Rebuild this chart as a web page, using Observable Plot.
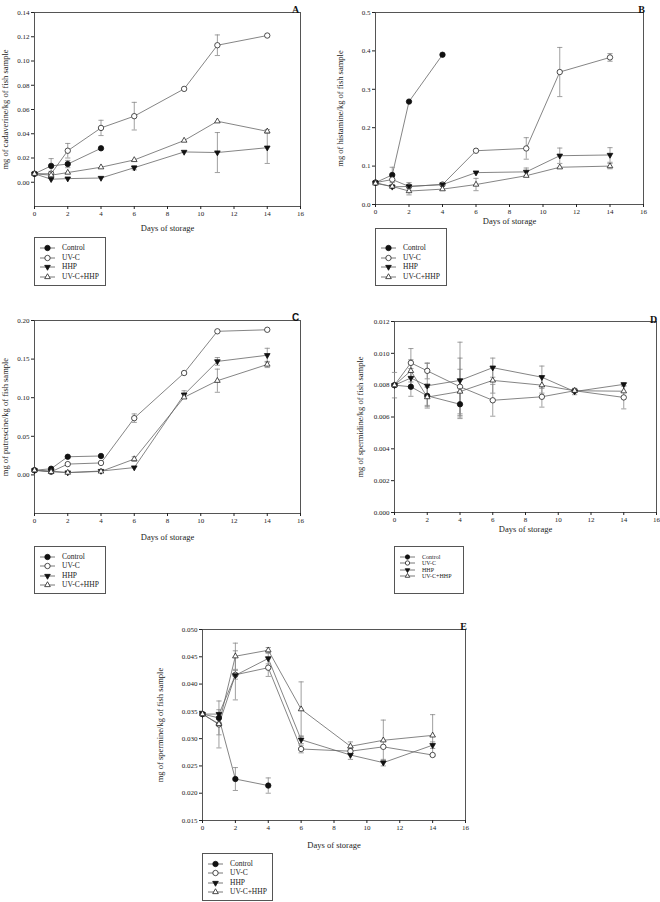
<!DOCTYPE html>
<html><head><meta charset="utf-8">
<script src="https://cdn.jsdelivr.net/npm/d3@7"></script>
<script src="https://cdn.jsdelivr.net/npm/@observablehq/plot@0.6"></script>
<style>
body{margin:0;background:#fff;}
#root{position:relative;width:660px;height:902px;overflow:hidden;font-family:"Liberation Serif",serif;color:#222;}
.panel{position:absolute;}
.panel svg{overflow:visible;}
.legend{position:absolute;border:1px solid #555;box-sizing:border-box;background:#fff;}
.legend .row{position:absolute;left:0;height:0;}
.legend .row svg{position:absolute;left:0;top:-4px;overflow:visible;}
.legend .row span{position:absolute;left:27px;top:0;transform:translateY(-52%);white-space:nowrap;color:#222;line-height:1;}
</style></head><body><div id="root"></div>
<script>
// ---------- shared ----------
const days = [0, 1, 2, 4, 6, 9, 11, 14];
const controlDays = [0, 1, 2, 4];
const seriesNames = ["Control", "UV-C", "HHP", "UV-C+HHP"];
const xTicks = [0, 2, 4, 6, 8, 10, 12, 14, 16];
const xLabel = "Days of storage";

// ---------- A: cadaverine ----------
const cadControl = [0.007, 0.0135, 0.015, 0.028];
const cadControlSd = [0, 0.006, 0.003, 0];
const cadUVC = [0.007, 0.007, 0.026, 0.0448, 0.0545, 0.077, 0.113, 0.121];
const cadUVCSd = [0, 0.002, 0.006, 0.0063, 0.0114, 0, 0.0085, 0];
const cadHHP = [0.007, 0.0025, 0.003, 0.0035, 0.012, 0.025, 0.0245, 0.0285];
const cadHHPSd = [0, 0, 0, 0, 0.0018, 0, 0.0165, 0.013];
const cadCombo = [0.007, 0.0058, 0.008, 0.0124, 0.0184, 0.0344, 0.0503, 0.042];
const cadComboSd = [0, 0, 0, 0, 0, 0, 0, 0.0015];
const cadTicks = [0, 0.02, 0.04, 0.06, 0.08, 0.10, 0.12, 0.14];

// ---------- B: histamine ----------
const hisControl = [0.057, 0.077, 0.268, 0.39];
const hisControlSd = [0, 0.02, 0, 0];
const hisUVC = [0.057, 0.065, 0.047, 0.052, 0.14, 0.146, 0.345, 0.383];
const hisUVCSd = [0, 0, 0, 0, 0, 0.028, 0.064, 0.01];
const hisHHP = [0.057, 0.046, 0.047, 0.052, 0.083, 0.085, 0.127, 0.129];
const hisHHPSd = [0, 0, 0.01, 0, 0, 0.01, 0.02, 0.019];
const hisCombo = [0.055, 0.047, 0.035, 0.04, 0.052, 0.075, 0.097, 0.1];
const hisComboSd = [0, 0.005, 0.01, 0, 0.016, 0, 0, 0.007];
const hisTicks = [0, 0.1, 0.2, 0.3, 0.4, 0.5];

// ---------- C: putrescine ----------
const putControl = [0.006, 0.008, 0.0235, 0.0245];
const putControlSd = [0, 0, 0, 0];
const putUVC = [0.006, 0.004, 0.014, 0.0155, 0.0735, 0.132, 0.186, 0.188];
const putUVCSd = [0, 0, 0, 0, 0.0055, 0, 0, 0];
const putHHP = [0.006, 0.005, 0.003, 0.005, 0.0095, 0.104, 0.147, 0.155];
const putHHPSd = [0, 0, 0, 0, 0, 0.005, 0.005, 0.009];
const putCombo = [0.006, 0.004, 0.003, 0.0045, 0.0205, 0.1005, 0.122, 0.143];
const putComboSd = [0, 0, 0, 0, 0.003, 0, 0.015, 0.004];
const putTicks = [0, 0.05, 0.10, 0.15, 0.20];

// ---------- D: spermidine ----------
const spdControl = [0.008, 0.0079, 0.00733, 0.0068];
const spdControlSd = [0.0008, 0.0006, 0.0006, 0.0008];
const spdUVC = [0.008, 0.0094, 0.0089, 0.0079, 0.00705, 0.00727, 0.00765, 0.00723];
const spdUVCSd = [0, 0.0009, 0.0005, 0.0018, 0.001, 0.00065, 0.0001, 0.00072];
const spdHHP = [0.008, 0.00845, 0.00796, 0.0083, 0.0091, 0.0085, 0.0076, 0.00805];
const spdHHPSd = [0, 0.0006, 0.0014, 0.0024, 0.0006, 0.0007, 0.0002, 0.0001];
const spdCombo = [0.008, 0.0089, 0.00725, 0.0076, 0.0083, 0.008, 0.00765, 0.00762];
const spdComboSd = [0, 0.0007, 0.0006, 0.0014, 0.0008, 0.0005, 0.0001, 0];
const spdTicks = [0, 0.002, 0.004, 0.006, 0.008, 0.010, 0.012];

// ---------- E: spermine ----------
const spmControl = [0.0345, 0.0338, 0.0226, 0.0214];
const spmControlSd = [0, 0.0008, 0.0021, 0.0014];
const spmUVC = [0.0345, 0.0326, 0.0417, 0.043, 0.0281, 0.0277, 0.0285, 0.027];
const spmUVCSd = [0, 0.0043, 0.0008, 0.0016, 0.0007, 0.0005, 0, 0];
const spmHHP = [0.0345, 0.0345, 0.0416, 0.0447, 0.0298, 0.027, 0.0256, 0.0288];
const spmHHPSd = [0, 0.0008, 0.0045, 0.001, 0.0007, 0.0008, 0.0006, 0.0006];
const spmCombo = [0.0345, 0.0327, 0.0451, 0.0462, 0.0354, 0.0286, 0.0297, 0.0306];
const spmComboSd = [0, 0.002, 0.0024, 0.0005, 0.005, 0.0008, 0.0037, 0.0038];
const spmTicks = [0.015, 0.020, 0.025, 0.030, 0.035, 0.040, 0.045, 0.050];

// ---------- symbols ----------
const triDown = {draw(ctx, size) {
  const y = -Math.sqrt(size / (Math.sqrt(3) * 3));
  ctx.moveTo(0, -y * 2); ctx.lineTo(-Math.sqrt(3) * y, y); ctx.lineTo(Math.sqrt(3) * y, y); ctx.closePath();
}};
const capSym = {draw(ctx, size) {
  const r = Math.sqrt(size / Math.PI);
  ctx.moveTo(-r, 0); ctx.lineTo(r, 0);
}};
const styles = [
  {symbol: "circle", fill: "#111", stroke: "#111", r: 2.7},
  {symbol: "circle", fill: "#fff", stroke: "#222", r: 2.7},
  {symbol: triDown, fill: "#111", stroke: "#111", r: 2.1},
  {symbol: "triangle", fill: "#fff", stroke: "#222", r: 2.1}
];

function toRows(dayArr, vals, sds) {
  return dayArr.map((d, i) => ({day: d, v: vals[i], lo: vals[i] - sds[i], hi: vals[i] + sds[i], sd: sds[i]}));
}

const root = document.getElementById("root");

function panel(cfg) {
  const seriesRows = cfg.series.map(([dArr, v, s]) => toRows(dArr, v, s));
  const marks = [
    Plot.frame({stroke: "#444", strokeWidth: 0.9}),
    Plot.axisX({ticks: xTicks, tickSize: 3, tickPadding: 2, tickFormat: d3.format("d"), label: null}),
    Plot.axisY({ticks: cfg.yTicks, tickSize: 3, tickPadding: 2, tickFormat: d3.format(cfg.yFmt), label: null})
  ];
  seriesRows.forEach(rows => marks.push(Plot.line(rows, {x: "day", y: "v", stroke: "#666", strokeWidth: 0.8})));
  seriesRows.forEach(rows => {
    const err = rows.filter(r => r.sd > 0);
    marks.push(Plot.ruleX(err, {x: "day", y1: "lo", y2: "hi", stroke: "#888", strokeWidth: 0.8}));
    marks.push(Plot.dot(err, {x: "day", y: "hi", symbol: capSym, r: 2.6, stroke: "#888", strokeWidth: 0.8}));
    marks.push(Plot.dot(err, {x: "day", y: "lo", symbol: capSym, r: 2.6, stroke: "#888", strokeWidth: 0.8}));
  });
  seriesRows.forEach((rows, i) => marks.push(Plot.dot(rows, {x: "day", y: "v", symbol: styles[i].symbol, fill: styles[i].fill, stroke: styles[i].stroke, r: styles[i].r * (cfg.symScale || 1), strokeWidth: 0.8})));
  marks.push(Plot.text([xLabel], {frameAnchor: "bottom", textAnchor: "middle", dy: cfg.dyX, fontSize: 8.5, fill: "#222"}));
  marks.push(Plot.text([cfg.ylabel], {frameAnchor: "left", textAnchor: "middle", rotate: -90, dx: cfg.dxY, fontSize: 8.5, fill: "#222"}));
  marks.push(Plot.text([cfg.letter], {frameAnchor: "top-right", textAnchor: "middle", dx: cfg.ldx, dy: cfg.ldy, fontSize: 10, fontWeight: "bold", fill: "#111", fontFamily: cfg.letterFont || "Liberation Serif"}));
  const chart = Plot.plot({
    width: cfg.width, height: cfg.height,
    marginLeft: cfg.ml, marginRight: cfg.mr, marginTop: cfg.mt, marginBottom: cfg.mb,
    x: {domain: [0, 16]},
    y: {domain: cfg.yDomain},
    style: {fontFamily: "Liberation Serif", fontSize: "7px", color: "#222", background: "transparent", overflow: "visible"},
    marks
  });
  const div = document.createElement("div");
  div.className = "panel";
  div.style.left = cfg.left + "px"; div.style.top = cfg.top + "px";
  div.appendChild(chart);
  root.appendChild(div);
}

function legend(cfg) {
  const box = document.createElement("div");
  box.className = "legend";
  Object.assign(box.style, {left: cfg.left + "px", top: cfg.top + "px", width: cfg.w + "px", height: cfg.h + "px"});
  const k = cfg.symScale || 1;
  seriesNames.forEach((name, i) => {
    const row = document.createElement("div");
    row.className = "row";
    row.style.top = (cfg.first + i * cfg.step) + "px";
    const svg = d3.create("svg").attr("width", 24).attr("height", 8);
    svg.append("line").attr("x1", 5).attr("x2", 20).attr("y1", 4).attr("y2", 4).attr("stroke", "#555").attr("stroke-width", 0.8);
    const rr = styles[i].r * k;
    const sym = d3.symbol().type(styles[i].symbol === "circle" ? d3.symbolCircle : styles[i].symbol === "triangle" ? d3.symbolTriangle : triDown).size(Math.PI * rr * rr);
    svg.append("path").attr("d", sym()).attr("transform", "translate(12.5,4)").attr("fill", styles[i].fill).attr("stroke", styles[i].stroke).attr("stroke-width", 0.8);
    row.appendChild(svg.node());
    const t = document.createElement("span");
    t.textContent = name;
    t.style.fontSize = cfg.fs + "px";
    row.appendChild(t);
    box.appendChild(row);
  });
  root.appendChild(box);
}

panel({left: 0, top: 0, width: 310, height: 245, ml: 34, mr: 10, mt: 12, mb: 39,
  yDomain: [-0.02, 0.14], yTicks: cadTicks, yFmt: ".2f", ylabel: "mg of cadaverine/kg of fish sample",
  letter: "A", ldx: -5, ldy: -7, dxY: -29, dyX: 24,
  series: [[controlDays, cadControl, cadControlSd], [days, cadUVC, cadUVCSd], [days, cadHHP, cadHHPSd], [days, cadCombo, cadComboSd]]});
legend({left: 34, top: 237, w: 72, h: 49, first: 10, step: 9.5, fs: 7.5});

panel({left: 330, top: 0, width: 325, height: 245, ml: 45, mr: 12, mt: 12, mb: 41,
  yDomain: [0, 0.5], yTicks: hisTicks, yFmt: ".1f", ylabel: "mg of histamine/kg of fish sample",
  letter: "B", ldx: -2, ldy: -7, dxY: -35, dyX: 19.5,
  series: [[controlDays, hisControl, hisControlSd], [days, hisUVC, hisUVCSd], [days, hisHHP, hisHHPSd], [days, hisCombo, hisComboSd]]});
legend({left: 375, top: 228, w: 72, h: 58, first: 19, step: 9.5, fs: 7.5});

panel({left: 0, top: 300, width: 310, height: 250, ml: 34, mr: 10, mt: 20, mb: 37,
  yDomain: [-0.05, 0.2], yTicks: putTicks, yFmt: ".2f", ylabel: "mg of putrescine/kg of fish sample",
  letter: "C", letterFont: "Liberation Sans", ldx: -5, ldy: -7, dxY: -29, dyX: 26,
  series: [[controlDays, putControl, putControlSd], [days, putUVC, putUVCSd], [days, putHHP, putHHPSd], [days, putCombo, putComboSd]]});
legend({left: 34, top: 546, w: 72, h: 48, first: 10, step: 9.3, fs: 7.5});

panel({left: 330, top: 300, width: 330, height: 245, ml: 64, mr: 4, mt: 21, mb: 33,
  yDomain: [0, 0.012], yTicks: spdTicks, yFmt: ".3f", ylabel: "mg of spermidine/kg of fish sample",
  letter: "D", ldx: -3, ldy: -6, dxY: -34, dyX: 19,
  series: [[controlDays, spdControl, spdControlSd], [days, spdUVC, spdUVCSd], [days, spdHHP, spdHHPSd], [days, spdCombo, spdComboSd]]});
legend({left: 394, top: 546, w: 70, h: 48, first: 10, step: 6.4, fs: 6, symScale: 0.8});

panel({left: 150, top: 600, width: 320, height: 255, ml: 52, mr: 5, mt: 29, mb: 35,
  yDomain: [0.015, 0.05], yTicks: spmTicks, yFmt: ".3f", ylabel: "mg of spermine/kg of fish sample",
  letter: "E", ldx: -2, ldy: -7, dxY: -42, dyX: 27,
  series: [[controlDays, spmControl, spmControlSd], [days, spmUVC, spmUVCSd], [days, spmHHP, spmHHPSd], [days, spmCombo, spmComboSd]]});
legend({left: 202, top: 853, w: 71, h: 48, first: 10, step: 9.3, fs: 7.5});
</script></body></html>
